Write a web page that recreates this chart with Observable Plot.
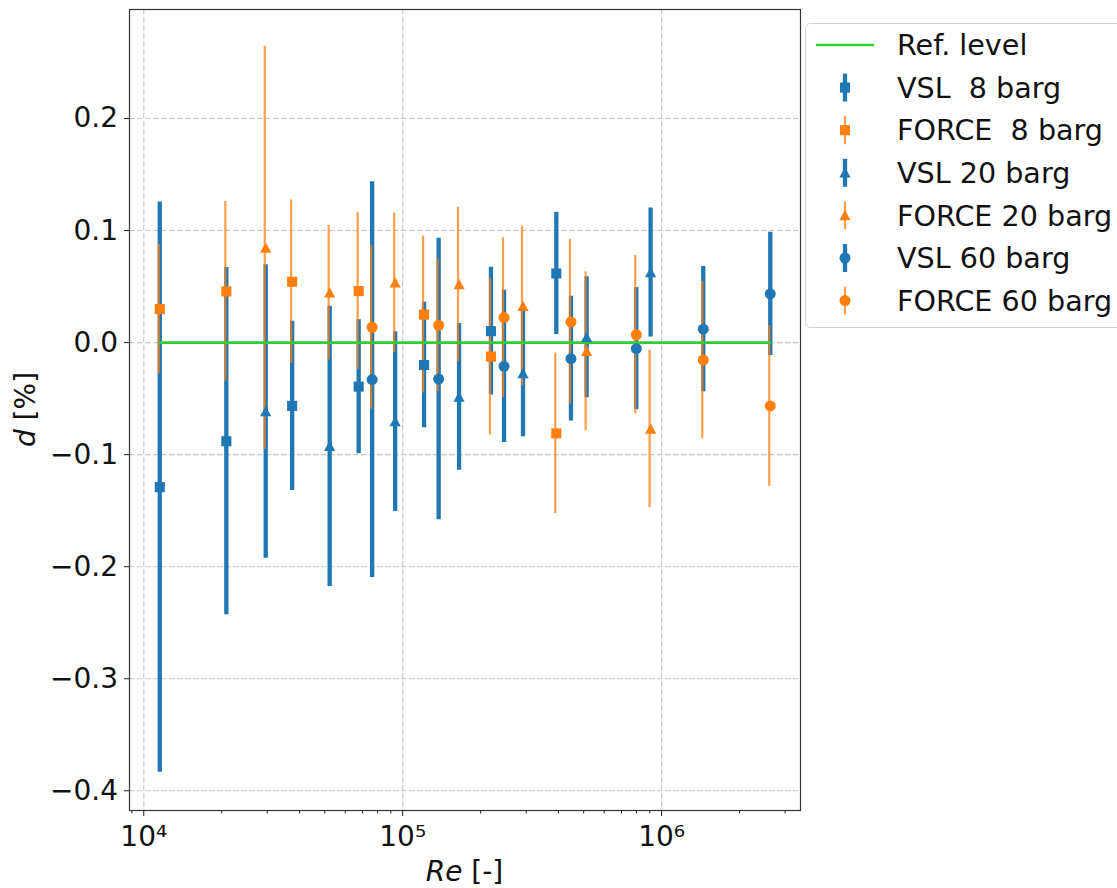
<!DOCTYPE html>
<html><head><meta charset="utf-8">
<script src="https://cdn.jsdelivr.net/npm/d3@7"></script>
<script src="https://cdn.jsdelivr.net/npm/@observablehq/plot@0.6"></script>
<style>
html,body{margin:0;padding:0;background:#fff;overflow:hidden;}
#wrap{position:relative;width:1117px;height:888px;overflow:hidden;}
#legend{position:absolute;left:805px;top:23px;}
</style></head><body><div id="wrap"></div>
<script>
// ---- data ----
const vsl8Re = [11530, 20840, 37420, 67610, 120950, 219300, 392100];
const vsl8D = [-0.129, -0.088, -0.0565, -0.0393, -0.0200, 0.0102, 0.0617];
const vsl8Err = [0.2545, 0.155, 0.0756, 0.0598, 0.0561, 0.0570, 0.0546];
const force8D = [0.0299, 0.0457, 0.0543, 0.0460, 0.0250, -0.0125, -0.0810];
const force8Err = [0.0576, 0.0803, 0.0730, 0.0700, 0.0700, 0.0700, 0.0716];

const vsl20Re = [29580, 52240, 93530, 165100, 291600, 513400, 907000];
const vsl20D = [-0.0615, -0.0926, -0.0705, -0.0485, -0.0275, 0.0048, 0.0625];
const vsl20Err = [0.131, 0.125, 0.0803, 0.0655, 0.0566, 0.054, 0.0576];
const force20D = [0.0845, 0.0445, 0.0535, 0.0519, 0.0325, -0.0078, -0.0770];
const force20Err = [0.180, 0.060, 0.0622, 0.069, 0.071, 0.071, 0.0703];

const vsl60Re = [76220, 137700, 246300, 446700, 798700, 1449000, 2629000];
const vsl60D = [-0.0330, -0.0325, -0.0212, -0.0143, -0.0054, 0.0120, 0.0435];
const vsl60Err = [0.1766, 0.1256, 0.068, 0.0557, 0.0545, 0.056, 0.055];
const force60D = [0.0137, 0.0155, 0.0223, 0.0185, 0.0070, -0.0156, -0.0565];
const force60Err = [0.0732, 0.0590, 0.0712, 0.0734, 0.0707, 0.0702, 0.0718];

const refRe = [11530, 2629000];
const refD = [0, 0];

const seriesNames = ["VSL  8 barg", "FORCE  8 barg", "VSL 20 barg", "FORCE 20 barg", "VSL 60 barg", "FORCE 60 barg"];
const refName = "Ref. level";

const yTicks = [-0.4, -0.3, -0.2, -0.1, 0.0, 0.1, 0.2];
const xTicks = [1e4, 1e5, 1e6];
const xTickLabels = ["10\u2074", "10\u2075", "10\u2076"];
const xMinorTicks = [9000, 20000, 30000, 40000, 50000, 60000, 70000, 80000, 90000,
  200000, 300000, 400000, 500000, 600000, 700000, 800000, 900000, 2000000, 3000000];
const xLabelItalic = "Re", xLabelRest = " [-]";
const yLabelItalic = "d", yLabelRest = " [%]";

// ---- styles ----
const blue = "#1f77b4", orange = "#ff7f0e", green = "#33cc33";
const triangle = {
  draw(ctx, size) {
    const r = Math.sqrt(size / Math.PI);
    ctx.moveTo(0, -r);
    ctx.lineTo(r, r * 0.85);
    ctx.lineTo(-r, r * 0.85);
    ctx.closePath();
  }
};
const series = [
  {name: seriesNames[0], Re: vsl8Re, D: vsl8D, E: vsl8Err, color: blue, symbol: "square", r: 5.7, vsl: true},
  {name: seriesNames[1], Re: vsl8Re, D: force8D, E: force8Err, color: orange, symbol: "square", r: 5.7, vsl: false},
  {name: seriesNames[2], Re: vsl20Re, D: vsl20D, E: vsl20Err, color: blue, symbol: triangle, r: 5.6, vsl: true},
  {name: seriesNames[3], Re: vsl20Re, D: force20D, E: force20Err, color: orange, symbol: triangle, r: 5.6, vsl: false},
  {name: seriesNames[4], Re: vsl60Re, D: vsl60D, E: vsl60Err, color: blue, symbol: "circle", r: 5.5, vsl: true},
  {name: seriesNames[5], Re: vsl60Re, D: force60D, E: force60Err, color: orange, symbol: "circle", r: 5.5, vsl: false}
];
series.forEach(s => {
  s.rows = s.Re.map((re, i) => ({Re: re, d: s.D[i], lo: s.D[i] - s.E[i], hi: s.D[i] + s.E[i]}));
});
const vslRows = series.filter(s => s.vsl).flatMap(s => s.rows);
const forceRows = series.filter(s => !s.vsl).flatMap(s => s.rows);
const refRows = refRe.map((re, i) => ({Re: re, d: refD[i]}));

const gridStyle = {stroke: "#b0b0b0", strokeOpacity: 0.75, strokeWidth: 1.1, strokeDasharray: "5.5,2.5"};
const fmtY = d => (d < 0 ? "\u2212" : "") + Math.abs(d).toFixed(1);

const svg = Plot.plot({
  width: 1117, height: 888,
  marginLeft: 129, marginRight: 317, marginTop: 9, marginBottom: 78,
  style: {fontFamily: "DejaVu Sans", fontSize: "28px", background: "white", color: "#222"},
  x: {type: "log", domain: [8808, 3.44e6]},
  y: {domain: [-0.4176, 0.2973]},
  marks: [
    Plot.gridX(xTicks, gridStyle),
    Plot.gridY(yTicks, gridStyle),
    Plot.ruleX(vslRows, {x: "Re", y1: "lo", y2: "hi", stroke: blue, strokeWidth: 4.3}),
    Plot.ruleX(forceRows, {x: "Re", y1: "lo", y2: "hi", stroke: orange, strokeOpacity: 0.75, strokeWidth: 2.2, dx: -1}),
    Plot.line(refRows, {x: "Re", y: "d", stroke: green, strokeWidth: 2.7}),
    ...series.map(s => Plot.dot(s.rows, {x: "Re", y: "d", symbol: s.symbol, r: s.r, fill: s.color, stroke: "none"})),
    Plot.axisX(xMinorTicks, {tickSize: 3.5, tickFormat: () => "", label: null}),
    Plot.axisX(xTicks, {tickSize: 6, tickPadding: 10, tickFormat: d => xTickLabels[xTicks.indexOf(d)], label: null, fill: "#111"}),
    Plot.axisY(yTicks, {tickSize: 5, tickPadding: 6.5, tickFormat: fmtY, label: null, fill: "#111"}),
    Plot.frame({stroke: "#333", strokeWidth: 1.2})
  ]
});

const sel = d3.select(svg);
const xl = sel.append("text")
  .attr("x", 464.5).attr("y", 881).attr("text-anchor", "middle")
  .attr("font-family", "DejaVu Sans").attr("font-size", 28).attr("fill", "#111");
xl.append("tspan").attr("font-style", "italic").text(xLabelItalic);
xl.append("tspan").style("white-space", "pre").text(xLabelRest);
const yl = sel.append("text")
  .attr("transform", "translate(35,409.5) rotate(-90)").attr("text-anchor", "middle")
  .attr("font-family", "DejaVu Sans").attr("font-size", 28).attr("fill", "#111");
yl.append("tspan").attr("font-style", "italic").text(yLabelItalic);
yl.append("tspan").style("white-space", "pre").text(yLabelRest);

const wrap = document.getElementById("wrap");
wrap.appendChild(svg);

// ---- legend ----
const lg = d3.create("svg").attr("id", "legend").attr("width", 320).attr("height", 310)
  .style("font-family", "DejaVu Sans").style("font-size", "28.6px");
lg.append("rect").attr("x", 0.5).attr("y", 0.5).attr("width", 340).attr("height", 304).attr("rx", 5)
  .attr("fill", "white").attr("fill-opacity", 0.85).attr("stroke", "#d0d0d0");
const rowY = i => 22 + i * 42.6;
const mx = 40, tx = 92;
lg.append("line").attr("x1", 11).attr("x2", 69).attr("y1", rowY(0)).attr("y2", rowY(0))
  .attr("stroke", green).attr("stroke-width", 2.7);
lg.append("text").attr("x", tx).attr("y", rowY(0)).attr("dy", "0.36em").attr("fill", "#111").text(refName);
series.forEach((s, k) => {
  const y = rowY(k + 1);
  lg.append("line").attr("x1", mx).attr("x2", mx).attr("y1", y - 14).attr("y2", y + 14)
    .attr("stroke", s.color).attr("stroke-width", s.vsl ? 4.3 : 2.2).attr("stroke-opacity", s.vsl ? 1 : 0.75);
  const type = s.symbol === "square" ? d3.symbolSquare : s.symbol === "circle" ? d3.symbolCircle : triangle;
  lg.append("path").attr("transform", `translate(${mx},${y})`)
    .attr("d", d3.symbol(type, Math.PI * s.r * s.r)()).attr("fill", s.color);
  lg.append("text").attr("x", tx).attr("y", y).attr("dy", "0.36em").attr("fill", "#111")
    .style("white-space", "pre").text(s.name);
});
wrap.appendChild(lg.node());
</script></body></html>
